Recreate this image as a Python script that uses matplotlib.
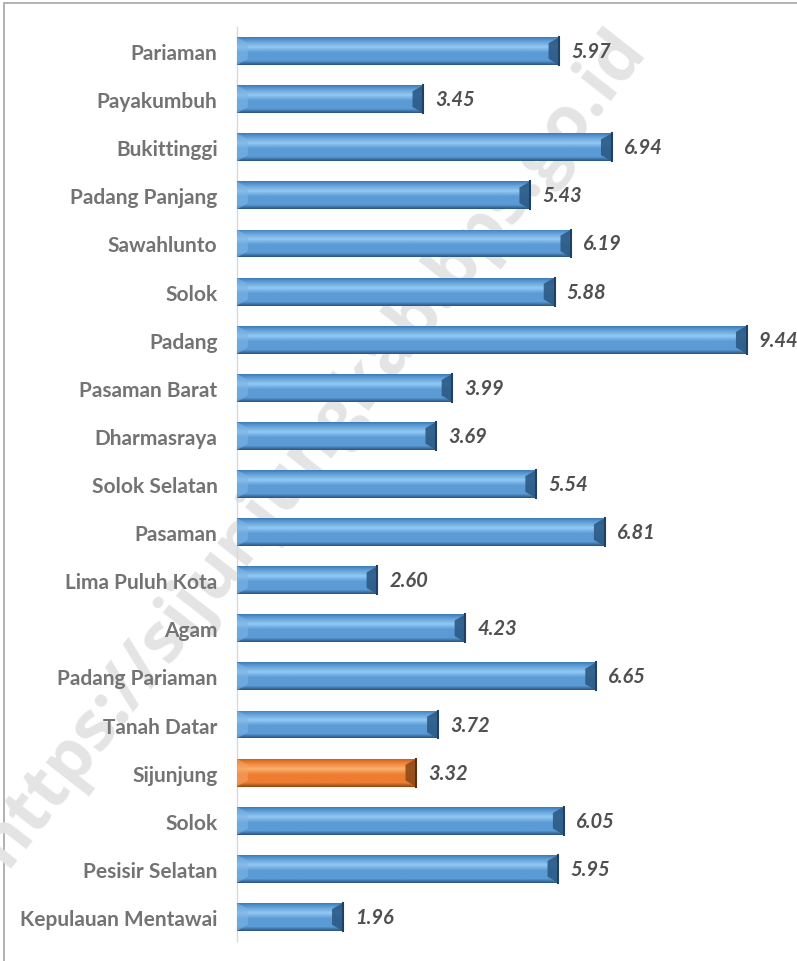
import numpy as np
import matplotlib
matplotlib.use("Agg")
import matplotlib.pyplot as plt
from matplotlib.patches import Polygon, Rectangle
from matplotlib.colors import to_rgb

regions = ["Pariaman", "Payakumbuh", "Bukittinggi", "Padang Panjang", "Sawahlunto",
           "Solok", "Padang", "Pasaman Barat", "Dharmasraya", "Solok Selatan",
           "Pasaman", "Lima Puluh Kota", "Agam", "Padang Pariaman", "Tanah Datar",
           "Sijunjung", "Solok", "Pesisir Selatan", "Kepulauan Mentawai"]
values = [5.97, 3.45, 6.94, 5.43, 6.19, 5.88, 9.44, 3.99, 3.69, 5.54,
          6.81, 2.60, 4.23, 6.65, 3.72, 3.32, 6.05, 5.95, 1.96]
highlight = "Sijunjung"
watermark = "https://sijunjungkab.bps.go.id"

W, H = 797, 962
fig = plt.figure(figsize=(W / 100, H / 100), dpi=100)
fig.patch.set_facecolor("white")

# border of the chart area
fig.add_artist(Rectangle((4 / W, -0.1), 1.2, (H - 4) / H + 0.1, transform=fig.transFigure,
                         fill=False, edgecolor="#a6a6a6", linewidth=1.2, zorder=-2))

# watermark (background)
bg = fig.add_axes([0, 0, 1, 1], zorder=-1)
bg.set_axis_off()
bg.set_xlim(0, 1)
bg.set_ylim(0, 1)
bg.text(312 / W, 1 - 448 / H, watermark, rotation=52, ha="center", va="center",
        fontsize=50, fontweight="bold", color="#e4e4e4", family="Open Sans",
        transform=bg.transAxes, clip_on=False)

ax = fig.add_axes([237 / W, 1 - 942 / H, 540 / W, 914 / H], zorder=1)
ax.set_facecolor("none")
ax.set_xlim(0, 10)
ax.set_ylim(len(regions) - 0.5, -0.5)

pos = np.arange(len(regions))
bh = 0.58

palettes = {
    "blue": dict(top="#3f7bb5", light="#93c9f3", mid="#5b9bd5", bot="#2a5680",
                 lend="#7fb4e4", rend="#2c5a86", edge="#1f4264"),
    "orange": dict(top="#c8641f", light="#fbb16e", mid="#ed7d31", bot="#8e4716",
                   lend="#f5a263", rend="#8f4a1a", edge="#5e2f0f"),
}

def grad_img(p):
    stops = [(0.0, p["top"]), (0.12, p["mid"]), (0.35, p["light"]), (0.55, p["mid"]),
             (0.85, p["mid"]), (1.0, p["bot"])]
    t = np.linspace(0, 1, 64)
    cols = np.zeros((64, 1, 3))
    for c in range(3):
        xs = [s for s, _ in stops]
        ys = [to_rgb(col)[c] for _, col in stops]
        cols[:, 0, c] = np.interp(t, xs, ys)
    return cols

bars = ax.barh(pos, values, height=bh, color="none", edgecolor="none", zorder=2)
for name, v, y, b in zip(regions, values, pos, bars):
    p = palettes["orange" if name == highlight else "blue"]
    img = grad_img(p)
    im = ax.imshow(img, extent=[0, v, y - bh / 2, y + bh / 2], origin="lower",
                   aspect="auto", zorder=3, interpolation="bilinear")
    im.set_clip_path(b)
    d = 0.2
    top, bot = y - bh / 2, y + bh / 2
    ax.add_patch(Polygon([(0, top), (d, top + bh * 0.22), (d, bot - bh * 0.22), (0, bot)],
                         closed=True, facecolor=p["lend"], edgecolor="none", alpha=0.6, zorder=4))
    ax.add_patch(Polygon([(v, top), (v - d, top + bh * 0.22), (v - d, bot - bh * 0.22), (v, bot)],
                         closed=True, facecolor=p["rend"], edgecolor="none", alpha=0.9, zorder=4))
    ax.plot([v, v], [top, bot], color=p["edge"], lw=1.5, zorder=5)
    ax.text(v + 0.22, y, f"{v:.2f}", ha="left", va="center", fontsize=14.5,
            fontweight="bold", fontstyle="italic", color="#505050", family="Lato", zorder=6)

ax.set_yticks(pos)
ax.set_yticklabels(regions, fontsize=15, fontweight="bold", color="#737373", family="Lato")
ax.tick_params(axis="y", length=0, pad=14)
ax.set_xticks([])
for s in ["top", "right", "bottom"]:
    ax.spines[s].set_visible(False)
ax.spines["left"].set_color("#d9d9d9")
ax.spines["left"].set_linewidth(1.0)

fig.savefig("out.png", dpi=100, facecolor="white")
